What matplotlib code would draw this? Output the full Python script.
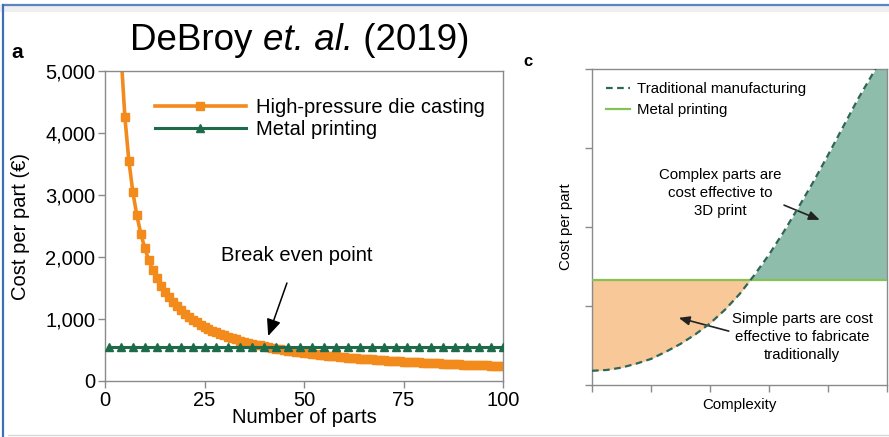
import matplotlib
matplotlib.use("Agg")
import matplotlib.pyplot as plt
from matplotlib.lines import Line2D
from matplotlib.patches import Rectangle
import numpy as np

plt.rcParams['font.family'] = ['Liberation Sans', 'DejaVu Sans']

# ---- panel a: cost per part vs number of parts ----
parts = list(range(1, 101))
die_casting_cost = [
    21132, 10582, 7065, 5307, 4252, 3549, 3046, 2670, 2376, 2142,
    1950, 1790, 1655, 1539, 1439, 1351, 1273, 1204, 1143, 1087,
    1037, 991, 949, 911, 876, 844, 813, 786, 760, 735,
    713, 691, 671, 653, 635, 618, 602, 587, 573, 560,
    547, 534, 523, 512, 501, 491, 481, 472, 463, 454,
    446, 438, 430, 423, 416, 409, 402, 396, 390, 384,
    378, 372, 367, 362, 357, 352, 347, 342, 338, 333,
    329, 325, 321, 317, 313, 310, 306, 303, 299, 296,
    292, 289, 286, 283, 280, 277, 275, 272, 269, 266,
    264, 261, 259, 256, 254, 252, 250, 247, 245, 243,
]
printing_parts = list(range(1, 101, 3))
printing_cost = [548] * len(printing_parts)
a_xticks = [0, 25, 50, 75, 100]
a_yticks = [0, 1000, 2000, 3000, 4000, 5000]

# ---- panel c: conceptual cost vs complexity ----
complexity = [0, 0.25, 0.5, 0.75, 1.0, 1.25, 1.5, 1.75, 2.0, 2.25, 2.5,
              2.75, 3.0, 3.25, 3.5, 3.75, 4.0, 4.25, 4.5, 4.75, 5.0]
traditional_cost = [0.18, 0.19, 0.22, 0.27, 0.33, 0.42, 0.52, 0.64, 0.78, 0.95, 1.15,
                    1.39, 1.65, 1.94, 2.25, 2.57, 2.91, 3.26, 3.61, 3.93, 4.25]
printing_level = 1.33

ORANGE = '#f28a1c'
GREEN = '#1e6b4c'
SPINE = '#8a8a8a'

W, H = 889, 437
fig = plt.figure(figsize=(W / 100, H / 100), dpi=100)

def fx(px):
    return px / W

def fy(py):
    return 1 - py / H

# frame around the figure
fig.add_artist(Rectangle((0, fy(12)), 1, fy(5) - fy(12), transform=fig.transFigure,
                         facecolor='#eeeeee', edgecolor='none', zorder=0))
fig.add_artist(Line2D([fx(3), 1], [fy(5), fy(5)], transform=fig.transFigure,
                      color='#5b84c4', lw=1.6))
fig.add_artist(Line2D([fx(3), fx(3)], [0, fy(5)], transform=fig.transFigure,
                      color='#3f6fb5', lw=1.6))
fig.add_artist(Line2D([fx(8), 1], [fy(435), fy(435)], transform=fig.transFigure,
                      color='#d8d8d8', lw=1.0))

# ---- panel a ----
ax = fig.add_axes([fx(105), fy(381), fx(503) - fx(105), fy(71) - fy(381)])
ax.plot(parts, die_casting_cost, color=ORANGE, lw=2.6, marker='s', ms=6,
        mec=ORANGE, mfc=ORANGE, label='High-pressure die casting', clip_on=True)
ax.plot(printing_parts, printing_cost, color=GREEN, lw=2.2, marker='^', ms=5.5,
        mec=GREEN, mfc=GREEN, label='Metal printing', zorder=3)
ax.set_xlim(0, 100)
ax.set_ylim(0, 5000)
ax.set_xticks(a_xticks)
ax.set_yticks(a_yticks)
ax.set_yticklabels([f'{v:,}' for v in a_yticks])
for s in ax.spines.values():
    s.set_color(SPINE)
    s.set_linewidth(1.0)
ax.tick_params(direction='out', length=5, width=1, color=SPINE, labelsize=14.5, pad=2)
ax.set_xlabel('Number of parts', fontsize=14.5, labelpad=-1)
ax.set_ylabel('Cost per part (€)', fontsize=14.5, labelpad=11)
ax.legend(loc='upper left', bbox_to_anchor=(0.08, 0.97), frameon=False,
          fontsize=14.5, handlelength=4.5, handletextpad=0.5,
          labelspacing=0.15, markerscale=1.0)
ax.annotate('Break even point', xy=(41, 726), xytext=(48.2, 2032),
            ha='center', va='center', fontsize=14.5,
            arrowprops=dict(arrowstyle='-|>,head_length=0.7,head_width=0.3',
                            color='black', lw=1.1, shrinkA=12, shrinkB=0))

# title assembled from upright and italic pieces, laid out left to right
title_parts = [('DeBroy ', 'normal'), ('et. al.', 'italic'), (' (2019)', 'normal')]
renderer = fig.canvas.get_renderer()
pieces = []
for txt, style in title_parts:
    t = fig.text(0, fy(41), txt, ha='left', va='center', fontsize=26.5, fontstyle=style)
    pieces.append(t)
widths = [p.get_window_extent(renderer).width for p in pieces]
x0 = 300 - sum(widths) / 2
for p, w in zip(pieces, widths):
    p.set_x(fx(x0))
    x0 += w

fig.text(fx(17), fy(53), 'a', ha='center', va='center', fontsize=15, fontweight='bold')

# ---- panel c ----
cx = fig.add_axes([fx(592), fy(385), fx(887) - fx(592), fy(69) - fy(385)])
xc = np.array(complexity)
yc = np.array(traditional_cost)
cx.fill_between(xc, yc, printing_level, where=yc <= printing_level, interpolate=True,
                color='#f8c898', lw=0)
cx.fill_between(xc, yc, printing_level, where=yc >= printing_level, interpolate=True,
                color='#8fbdab', lw=0)
cx.axhline(printing_level, color='#86c157', lw=1.6, label='Metal printing', zorder=3)
cx.plot(xc, yc, color='#2f6656', lw=1.6, ls=(0, (3, 2)), label='Traditional manufacturing',
        zorder=4)
cx.set_xlim(0, 5)
cx.set_ylim(0, 4)
cx.set_xticks(range(6))
cx.set_yticks(range(5))
cx.set_xticklabels([])
cx.set_yticklabels([])
for s in cx.spines.values():
    s.set_color(SPINE)
    s.set_linewidth(1.0)
cx.tick_params(direction='out', length=5, width=1, color=SPINE)
cx.set_xlabel('Complexity', fontsize=10.8, labelpad=1)
cx.set_ylabel('Cost per part', fontsize=10.8, labelpad=5)
h, l = cx.get_legend_handles_labels()
cx.legend([h[1], h[0]], [l[1], l[0]], loc='upper left', bbox_to_anchor=(0.0, 1.0),
          frameon=False, fontsize=10.8, handlelength=1.6, handletextpad=0.5,
          labelspacing=0.45)
cx.annotate('Complex parts are\ncost effective to\n3D print', xy=(3.86, 2.09),
            xytext=(2.17, 2.43), ha='center', va='center', fontsize=10.8,
            linespacing=1.35,
            arrowprops=dict(arrowstyle='-|>,head_length=0.6,head_width=0.25',
                            color='#222222', lw=1.2, shrinkA=0, shrinkB=0,
                            relpos=(0.98, 0.3)))
cx.annotate('Simple parts are cost\neffective to fabricate\ntraditionally', xy=(1.47, 0.85),
            xytext=(3.56, 0.61), ha='center', va='center', fontsize=10.8,
            linespacing=1.35,
            arrowprops=dict(arrowstyle='-|>,head_length=0.6,head_width=0.25',
                            color='#222222', lw=1.2, shrinkA=0, shrinkB=0,
                            relpos=(0.0, 0.6)))
fig.text(fx(528), fy(62), 'c', ha='center', va='center', fontsize=12, fontweight='bold')

fig.savefig('out.png', dpi=100)
